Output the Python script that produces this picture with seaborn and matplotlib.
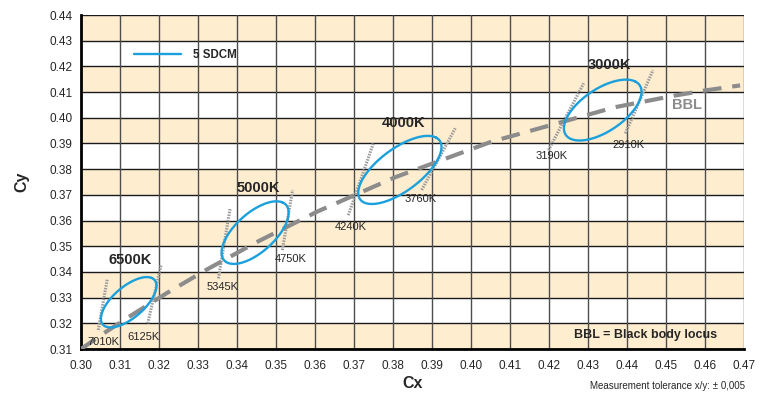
import numpy as np
import pandas as pd
import seaborn as sns
import matplotlib.pyplot as plt

# Planckian (black body) locus, CIE 1931 x/y
bbl_x = [0.2998, 0.3064, 0.3135, 0.3221, 0.3324, 0.3451, 0.3608, 0.3805, 0.4053, 0.4369, 0.4521, 0.4599, 0.4690]
bbl_y = [0.3097, 0.3166, 0.3236, 0.3318, 0.3410, 0.3516, 0.3636, 0.3768, 0.3907, 0.4041, 0.4086, 0.4106, 0.4126]

# 5-step MacAdam ellipses (centre, semi axes, angle)
cct_names = ['6500K', '5000K', '4000K', '3000K']
ell_cx = [0.3123, 0.3447, 0.3818, 0.4338]
ell_cy = [0.3282, 0.3553, 0.3797, 0.4030]
ell_a = [0.01115, 0.01370, 0.01565, 0.01390]
ell_b = [0.00475, 0.00590, 0.00670, 0.00680]
ell_theta = [58.23, 59.62, 54.00, 53.22]
name_x = [0.3126, 0.3455, 0.3827, 0.4355]
name_y = [0.3446, 0.3725, 0.3978, 0.4205]

# isotherm segments at the CCT boundaries
iso_names = ['7010K', '6125K', '5345K', '4750K', '4240K', '3760K', '3190K', '2910K']
iso_x0 = [0.3045, 0.3172, 0.3353, 0.3517, 0.3686, 0.3874, 0.4199, 0.4396]
iso_y0 = [0.3174, 0.3200, 0.3375, 0.3485, 0.3621, 0.3719, 0.3874, 0.3939]
iso_x1 = [0.3068, 0.3206, 0.3383, 0.3543, 0.3750, 0.3960, 0.4289, 0.4467]
iso_y1 = [0.3371, 0.3427, 0.3648, 0.3719, 0.3900, 0.3959, 0.4134, 0.4186]
iso_lab_x = [0.3058, 0.3161, 0.3363, 0.3537, 0.3692, 0.3870, 0.4208, 0.4404]
iso_lab_y = [0.3128, 0.3148, 0.3340, 0.3449, 0.3576, 0.3682, 0.3851, 0.3894]

sns.set_style('white')
plt.rcParams['font.family'] = ['Liberation Sans', 'DejaVu Sans']

fig = plt.figure(figsize=(7.7, 3.94), dpi=100)
ax = fig.add_axes([0.1048, 0.1142, 0.8614, 0.8477])

# striped background
for y0 in np.arange(0.31, 0.44, 0.02):
    ax.axhspan(y0, y0 + 0.01, color='#FFEDD0', zorder=0, lw=0)
for v in np.arange(0.31, 0.4401, 0.01):
    ax.axhline(v, color='#1A1A1A', lw=1.0, zorder=1)
for v in np.arange(0.31, 0.4701, 0.01):
    ax.axvline(v, color='#4D4D4D', lw=1.0, zorder=1)

# isotherms
for i in range(len(iso_names)):
    seg = pd.DataFrame({'x': [iso_x0[i], iso_x1[i]], 'y': [iso_y0[i], iso_y1[i]]})
    sns.lineplot(data=seg, x='x', y='y', ax=ax, color='#9A9A9A', lw=2.2,
                 linestyle=(0, (0.5, 0.4)), sort=False, estimator=None, zorder=3)
    ax.text(iso_lab_x[i], iso_lab_y[i], iso_names[i], fontsize=8, ha='center', va='center', zorder=6)

# black body locus
bbl = pd.DataFrame({'x': bbl_x, 'y': bbl_y})
sns.lineplot(data=bbl, x='x', y='y', ax=ax, color='#8C8C8C', lw=3,
             dashes=False, sort=False, estimator=None, zorder=4)
ax.lines[-1].set_dashes((4.5, 2.6))

# ellipses
t = np.linspace(0, 2 * np.pi, 200)
for i in range(len(cct_names)):
    th = np.deg2rad(ell_theta[i])
    ex = ell_cx[i] + ell_a[i] * np.cos(t) * np.cos(th) - ell_b[i] * np.sin(t) * np.sin(th)
    ey = ell_cy[i] + ell_a[i] * np.cos(t) * np.sin(th) + ell_b[i] * np.sin(t) * np.cos(th)
    sns.lineplot(x=ex, y=ey, ax=ax, color='#1BA0DC', lw=1.7, sort=False, estimator=None,
                 zorder=5, label='5 SDCM' if i == 0 else None)
    ax.text(name_x[i], name_y[i], cct_names[i], fontsize=10.5, fontweight='bold', ha='center', va='center', zorder=6)

ax.text(0.4555, 0.4048, 'BBL', fontsize=10.5, fontweight='bold', color='#8C8C8C', ha='center', va='center', zorder=6)
ax.text(0.4449, 0.3155, 'BBL = Black body locus', fontsize=9, fontweight='bold', ha='center', va='center', zorder=6)

leg = ax.legend(loc='upper left', bbox_to_anchor=(0.065, 0.93), frameon=False,
                handlelength=4.1, handletextpad=1.0, prop={'weight': 'bold', 'size': 8.3})

ax.set_xlim(0.30, 0.47)
ax.set_ylim(0.31, 0.44)
ax.set_xticks(np.arange(0.30, 0.4701, 0.01))
ax.set_yticks(np.arange(0.31, 0.4401, 0.01))
ax.xaxis.set_major_formatter(plt.FormatStrFormatter('%.2f'))
ax.yaxis.set_major_formatter(plt.FormatStrFormatter('%.2f'))
ax.tick_params(axis='both', direction='out', length=3, width=1.2, labelsize=8.5, color='black', pad=3)
ax.tick_params(axis='x', pad=5)

for s in ['left', 'bottom']:
    ax.spines[s].set_color('black')
    ax.spines[s].set_linewidth(2)
for s in ['top', 'right']:
    ax.spines[s].set_visible(False)

ax.set_xlabel('Cx', fontsize=11.5, fontweight='bold', labelpad=3)
ax.set_ylabel('Cy', fontsize=11.5, fontweight='bold', labelpad=14)
fig.text(0.967, 0.02, 'Measurement tolerance x/y: \u00b1 0,005', fontsize=7, ha='right', va='center')

fig.savefig('out.png', dpi=100)
